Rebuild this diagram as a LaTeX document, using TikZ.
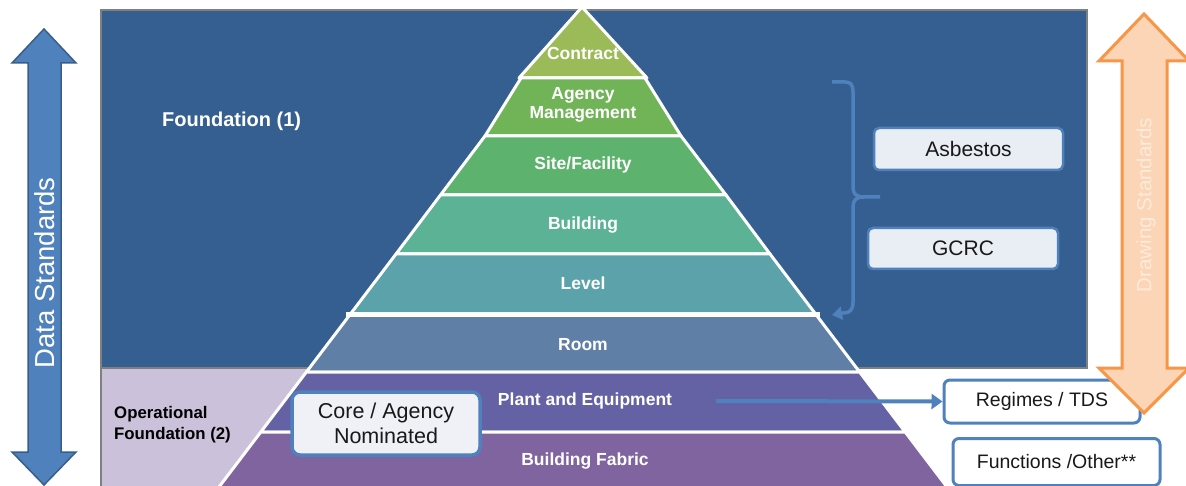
\documentclass[tikz,border=0pt]{standalone}
\usepackage{fontspec}
\setmainfont{Liberation Sans}
\usetikzlibrary{arrows.meta}
\definecolor{bgblue}{RGB}{54,95,145}
\definecolor{lav}{RGB}{204,193,218}
\definecolor{cContract}{RGB}{155,187,89}
\definecolor{cAgency}{RGB}{113,180,88}
\definecolor{cSite}{RGB}{93,179,110}
\definecolor{cBuilding}{RGB}{91,178,148}
\definecolor{cLevel}{RGB}{92,162,170}
\definecolor{cRoom}{RGB}{95,127,166}
\definecolor{cPlant}{RGB}{100,97,165}
\definecolor{cFabric}{RGB}{127,100,160}
\definecolor{accent}{RGB}{79,129,189}
\definecolor{accentdark}{RGB}{56,93,138}
\definecolor{orangefill}{RGB}{251,213,181}
\definecolor{orangeline}{RGB}{247,150,70}
\definecolor{orangetext}{RGB}{253,236,222}
\definecolor{boxfill}{RGB}{233,237,244}
\definecolor{corefill}{RGB}{240,240,247}
\tikzset{
  layer/.style={draw=white, line width=3pt, line join=round},
  lab/.style={text=white, font=\fontsize{17.5}{19.5}\selectfont\bfseries, align=center, inner sep=0pt},
  pale/.style={draw=accent, fill=boxfill, line width=2.5pt, rounded corners=5pt, font=\fontsize{21}{24}\selectfont, text=black!90, inner sep=0pt},
  whitebox/.style={draw=accent, fill=white, line width=3pt, rounded corners=6pt, font=\fontsize{19.5}{22}\selectfont, text=black!90, inner sep=0pt},
  conn/.style={draw=accent, line width=4pt, -{Triangle[length=11pt,width=15pt]}},
  bracket/.style={draw=accent, line width=3.5pt},
}
\begin{document}
\begin{tikzpicture}[x=1pt,y=-1pt]
\useasboundingbox (0,0) rectangle (1186,486);
\clip (0,0) rectangle (1186,486);
% background panels
\draw[fill=bgblue, draw=gray, line width=2pt] (101,10) rectangle (1087,368);
\fill[lav] (101,369) rectangle (583,487);
\draw[gray, line width=2pt] (101,368) -- (101,487);
% pyramid layers
\path[layer, fill=cContract] (582,7) -- (647,78) -- (519,78) -- cycle;
\path[layer, fill=cAgency] (521,78) -- (645,78) -- (681,136) -- (485,136) -- cycle;
\path[layer, fill=cSite] (485,136) -- (681,136) -- (726,195) -- (440.5,195) -- cycle;
\path[layer, fill=cBuilding] (440.5,195) -- (726,195) -- (770.0,254) -- (396.0,254) -- cycle;
\path[layer, fill=cLevel] (396.0,254) -- (770.0,254) -- (816.3,315) -- (349.7,315) -- cycle;
\path[layer, fill=cRoom] (349.7,315) -- (816.3,315) -- (859.6,372) -- (306.4,372) -- cycle;
\path[layer, fill=cPlant] (306.4,372) -- (859.6,372) -- (905.2,432) -- (260.8,432) -- cycle;
\path[layer, fill=cFabric] (260.8,432) -- (905.2,432) -- (950.8,492) -- (215.2,492) -- cycle;
\draw[white, line width=5pt] (346,315) -- (820,315);
% layer labels
\node[lab] (contract) at (583,53) {Contract};
\node[lab] (agency) at (583,105) {Agency\\Management};
\node[lab] (site) at (583,165) {Site/Facility};
\node[lab] (building) at (583,225) {Building};
\node[lab] (level) at (583,283) {Level};
\node[lab] (room) at (583,345) {Room};
\node[lab] (plant) at (585,401) {Plant and Equipment};
\node[lab] (fabric) at (585,461) {Building Fabric};
% section labels
\node[anchor=west, text=white, font=\fontsize{20}{23}\selectfont\bfseries, inner sep=0pt] (found1) at (162,121) {Foundation (1)};
\node[anchor=west, align=left, text=black, font=\fontsize{16.8}{21}\selectfont\bfseries, inner sep=0pt] (found2) at (114,425) {Operational\\Foundation (2)};
% side boxes
\node[pale, minimum width=189pt, minimum height=42pt] (asb) at (968.5,149) {Asbestos};
\node[pale, minimum width=190pt, minimum height=41pt] (gcrc) at (963,248.5) {GCRC};
\node[draw=accent, fill=corefill, line width=3.5pt, rounded corners=8pt, minimum width=188pt, minimum height=63pt, align=center, font=\fontsize{21.5}{25}\selectfont, text=black!90, inner sep=0pt] (core) at (386,423.5) {Core / Agency\\Nominated};
\node[whitebox, minimum width=196pt, minimum height=43pt] (reg) at (1042,401.5) {Regimes / TDS};
\node[whitebox, minimum width=207pt, minimum height=47pt] (func) at (1056.5,462) {Functions /Other**};
% connector
\coordinate (pestart) at (716,401);
\draw[conn] (pestart) -- (reg.west);
% brace
\coordinate (bt) at (832,82);
\coordinate (bm) at (880,197);
\coordinate (bb) at (832,315);
\draw[bracket] (bt) -- (845,82) .. controls (851,82) and (853,85) .. (853,92) -- (853,187) .. controls (853,194) and (856,197) .. (864,197) -- (bm);
\draw[bracket, -{Triangle[length=10pt,width=13pt]}] (864,197) .. controls (856,197) and (853,200) .. (853,207) -- (853,302) .. controls (853,310) and (850,313) .. (843,313) -- (bb);
% left double arrow (Data Standards)
\draw[fill=accent, draw=accentdark, line width=1.5pt, line join=miter] (44,29) -- (76,63) -- (61,63) -- (61,452) -- (76,452) -- (44,485) -- (12,452) -- (28,452) -- (28,63) -- (12,63) -- cycle;
\node[rotate=90, text=white, font=\fontsize{27.5}{30}\selectfont, inner sep=0pt] (data) at (45,273) {Data Standards};
% right double arrow (Drawing Standards)
\draw[fill=orangefill, draw=orangeline, line width=3pt, line join=miter] (1144,14) -- (1189,61) -- (1167,61) -- (1167,368) -- (1189,368) -- (1144,413) -- (1099,368) -- (1122,368) -- (1122,61) -- (1099,61) -- cycle;
\node[rotate=90, text=orangetext, font=\fontsize{20.5}{23}\selectfont, inner sep=0pt] (drawing) at (1146,205) {Drawing Standards};
\end{tikzpicture}
\end{document}
